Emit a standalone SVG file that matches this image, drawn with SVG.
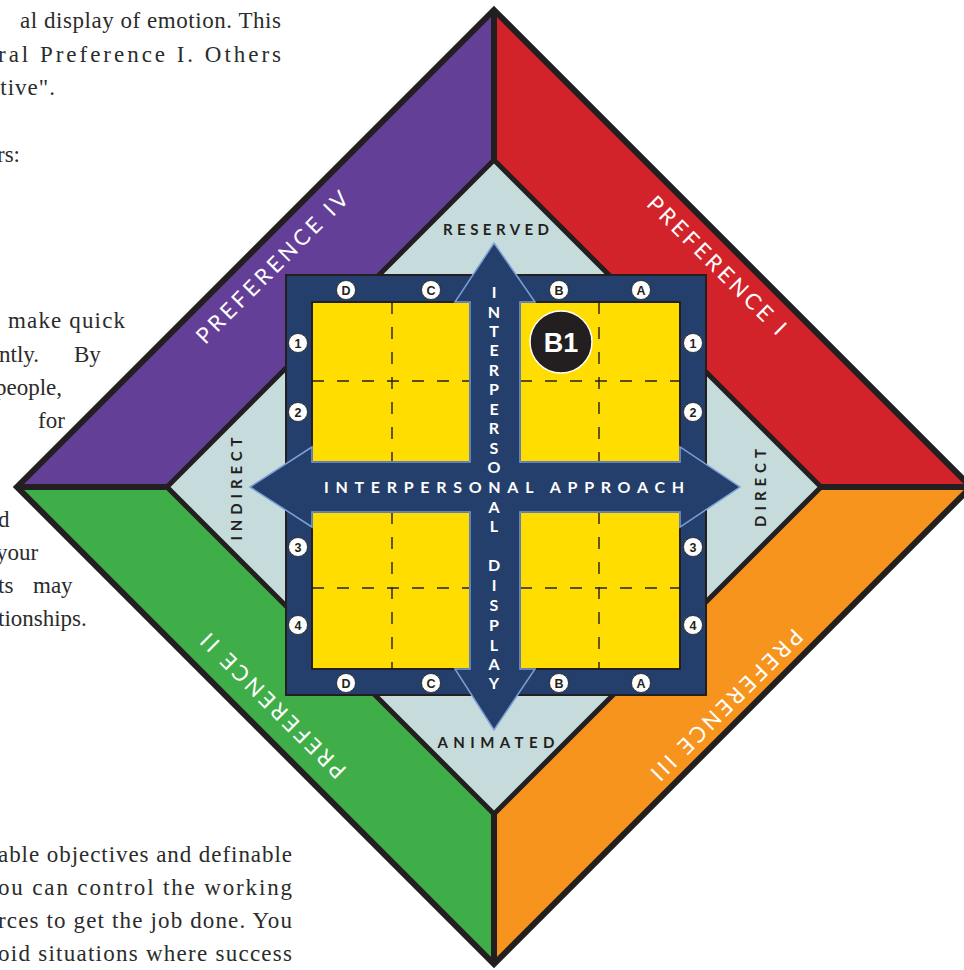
<svg xmlns="http://www.w3.org/2000/svg" width="964" height="970" viewBox="0 0 964 970">
<style>
.body{font-family:"Liberation Serif","Times New Roman",serif;font-size:23px;fill:#2b2b2b}
.pref{font-family:Lato,"Open Sans","DejaVu Sans",sans-serif;font-size:22px;fill:#ffffff;text-anchor:middle}
.axis{font-family:Lato,"Open Sans","DejaVu Sans",sans-serif;font-size:15px;font-weight:700;fill:#231f20;text-anchor:middle}
.wt{font-family:Lato,"Open Sans","DejaVu Sans",sans-serif;font-size:16px;font-weight:700;fill:#ffffff;text-anchor:middle}
.band{stroke:none}
.blk{stroke:#231f20;fill:none}
.yel{fill:#ffdd00;stroke:#231f20;stroke-width:2}
.dash{stroke:#231f20;stroke-width:1.4;stroke-dasharray:12 13;fill:none}
.lab circle{fill:#ffffff;stroke:#231f20;stroke-width:0.8}
.lab text{font-family:"Liberation Sans",Arial,sans-serif;font-size:12.5px;font-weight:700;fill:#231f20;text-anchor:middle}
</style>

<g id="page-text">
<text class="body" x="20" y="28" textLength="261" lengthAdjust="spacing">al display of emotion. This</text>
<text class="body" x="-2" y="62" textLength="283" lengthAdjust="spacing">ral Preference I. Others</text>
<text class="body" x="-11" y="95" textLength="66" lengthAdjust="spacing">ctive".</text>
<text class="body" x="-3" y="162">rs:</text>
<text class="body" x="8" y="328" textLength="117" lengthAdjust="spacing">make quick</text>
<text class="body" x="-1" y="362">ntly.</text>
<text class="body" x="74" y="362">By</text>
<text class="body" x="-5" y="395">people,</text>
<text class="body" x="38" y="428">for</text>
<text class="body" x="-2" y="527">d</text>
<text class="body" x="-4" y="560">your</text>
<text class="body" x="-2" y="593">ts</text>
<text class="body" x="33" y="593">may</text>
<text class="body" x="-2" y="626">tionships.</text>
<text class="body" x="-2" y="862" textLength="294" lengthAdjust="spacing">able objectives and definable</text>
<text class="body" x="-2" y="895" textLength="294" lengthAdjust="spacing">ou can control the working</text>
<text class="body" x="-2" y="928" textLength="294" lengthAdjust="spacing">rces to get the job done. You</text>
<text class="body" x="-2" y="961" textLength="294" lengthAdjust="spacing">oid situations where success</text>
</g>

<g id="preference-iv"><polygon class="band" fill="#643f98" points="494,487 494,10 17,487"/></g>
<g id="preference-i"><polygon class="band" fill="#d2232a" points="494,487 494,10 971,487"/></g>
<g id="preference-iii"><polygon class="band" fill="#f7941e" points="494,487 971,487 494,964"/></g>
<g id="preference-ii"><polygon class="band" fill="#3fae49" points="494,487 494,964 17,487"/></g>

<g id="outline">
<polygon class="blk" stroke-width="6" points="494,10 971,487 494,964 17,487"/>
<line class="blk" stroke-width="6" x1="494" y1="10" x2="494" y2="964"/>
<line class="blk" stroke-width="6" x1="17" y1="487" x2="971" y2="487"/>
</g>

<g id="inner-diamond"><polygon fill="#c6dbdb" stroke="#231f20" stroke-width="5" points="494,160 821,487 494,814 167,487"/></g>

<g id="preference-labels">
<text class="pref" transform="translate(272,267) rotate(-45)" x="0" y="8" textLength="205" lengthAdjust="spacing">PREFERENCE IV</text>
<text class="pref" transform="translate(717,265) rotate(45)" x="0" y="8" textLength="186" lengthAdjust="spacing">PREFERENCE I</text>
<text class="pref" transform="translate(273,706) rotate(-135)" x="0" y="8" textLength="195" lengthAdjust="spacing">PREFERENCE II</text>
<text class="pref" transform="translate(727,705) rotate(135)" x="0" y="8" textLength="204" lengthAdjust="spacing">PREFERENCE III</text>
</g>

<g id="axis-labels">
<text class="axis" x="496" y="235" textLength="106" lengthAdjust="spacing">RESERVED</text>
<text class="axis" x="496" y="748" textLength="117" lengthAdjust="spacing">ANIMATED</text>
<text class="axis" transform="translate(236,489) rotate(-90)" x="0" y="5.5" textLength="103" lengthAdjust="spacing">INDIRECT</text>
<text class="axis" transform="translate(760,488) rotate(-90)" x="0" y="5.5" textLength="78" lengthAdjust="spacing">DIRECT</text>
</g>

<g id="frame"><rect x="286" y="275" width="420" height="420" fill="#243f6b" stroke="#231f20" stroke-width="2"/></g>

<g id="quadrant-tl"><rect class="yel" x="312" y="302" width="158" height="160"/>
<line class="dash" x1="392" y1="302" x2="392" y2="462"/><line class="dash" x1="312" y1="381" x2="470" y2="381"/></g>
<g id="quadrant-tr"><rect class="yel" x="520" y="302" width="160" height="160"/>
<line class="dash" x1="599" y1="302" x2="599" y2="462"/><line class="dash" x1="520" y1="381" x2="680" y2="381"/></g>
<g id="quadrant-bl"><rect class="yel" x="312" y="512" width="158" height="157"/>
<line class="dash" x1="392" y1="512" x2="392" y2="669"/><line class="dash" x1="312" y1="588" x2="470" y2="588"/></g>
<g id="quadrant-br"><rect class="yel" x="520" y="512" width="160" height="157"/>
<line class="dash" x1="599" y1="512" x2="599" y2="669"/><line class="dash" x1="520" y1="588" x2="680" y2="588"/></g>

<g id="connectors">
<polygon fill="#243f6b" stroke="#7b9fd6" stroke-width="1.5" stroke-linejoin="miter" points="494,243 535,302 520,302 520,462 680,462 680,447 740,487 680,527 680,512 520,512 520,669 535,669 494,730 455,669 470,669 470,512 312,512 312,527 250,487 312,447 312,462 470,462 470,302 455,302"/>
</g>

<g id="axis-text">
<text class="wt" x="494"><tspan x="494" y="298">I</tspan><tspan x="494" y="318">N</tspan><tspan x="494" y="337">T</tspan><tspan x="494" y="356">E</tspan><tspan x="494" y="376">R</tspan><tspan x="494" y="395">P</tspan><tspan x="494" y="415">E</tspan><tspan x="494" y="434">R</tspan><tspan x="494" y="454">S</tspan><tspan x="494" y="473">O</tspan><tspan x="494" y="513">A</tspan><tspan x="494" y="532">L</tspan></text>
<text class="wt" x="494"><tspan x="494" y="571">D</tspan><tspan x="494" y="591">I</tspan><tspan x="494" y="611">S</tspan><tspan x="494" y="631">P</tspan><tspan x="494" y="651">L</tspan><tspan x="494" y="670">A</tspan><tspan x="494" y="689">Y</tspan></text>
<text class="wt" style="text-anchor:start" x="324" y="493" textLength="360" lengthAdjust="spacing">INTERPERSONAL APPROACH</text>
</g>

<g id="column-labels" class="lab">
<circle cx="346" cy="290" r="9.5"/><text x="346" y="294.5">D</text>
<circle cx="431" cy="290" r="9.5"/><text x="431" y="294.5">C</text>
<circle cx="559" cy="290" r="9.5"/><text x="559" y="294.5">B</text>
<circle cx="641" cy="290" r="9.5"/><text x="641" y="294.5">A</text>
<circle cx="346" cy="683" r="9.5"/><text x="346" y="687.5">D</text>
<circle cx="431" cy="683" r="9.5"/><text x="431" y="687.5">C</text>
<circle cx="559" cy="683" r="9.5"/><text x="559" y="687.5">B</text>
<circle cx="641" cy="683" r="9.5"/><text x="641" y="687.5">A</text>
</g>
<g id="row-labels" class="lab">
<circle cx="298" cy="343" r="9.5"/><text x="298" y="347.5">1</text>
<circle cx="298" cy="412" r="9.5"/><text x="298" y="416.5">2</text>
<circle cx="298" cy="547" r="9.5"/><text x="298" y="551.5">3</text>
<circle cx="298" cy="625" r="9.5"/><text x="298" y="629.5">4</text>
<circle cx="693" cy="343" r="9.5"/><text x="693" y="347.5">1</text>
<circle cx="693" cy="412" r="9.5"/><text x="693" y="416.5">2</text>
<circle cx="693" cy="547" r="9.5"/><text x="693" y="551.5">3</text>
<circle cx="693" cy="625" r="9.5"/><text x="693" y="629.5">4</text>
</g>

<g id="b1-marker">
<circle cx="561" cy="342" r="31" fill="#231f20" stroke="#ffffff" stroke-width="1.5"/>
<text x="561" y="352" font-family="Liberation Sans,Arial,sans-serif" font-size="27" font-weight="700" fill="#ffffff" text-anchor="middle">B1</text>
</g>
</svg>
